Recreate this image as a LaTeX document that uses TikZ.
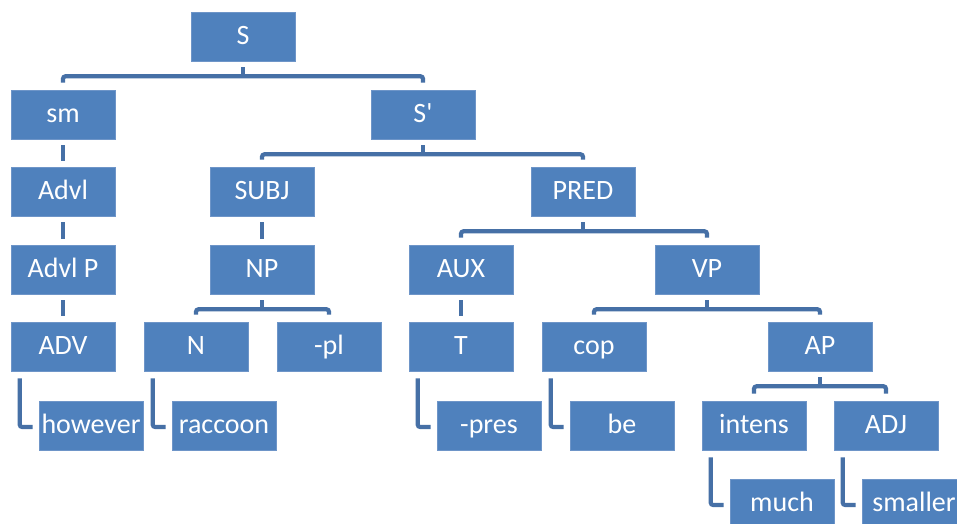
\documentclass[tikz,border=0pt]{standalone}
\usepackage{fontspec}
\setmainfont{Carlito}[Ligatures=TeXOff]
\usetikzlibrary{calc}
\definecolor{boxfill}{HTML}{4F81BD}
\definecolor{boxedge}{HTML}{6E95C8}
\definecolor{connc}{HTML}{4670A6}
\tikzset{
  tbox/.style={rectangle, fill=boxfill, draw=boxedge, line width=0.6pt,
    minimum width=104pt, minimum height=49pt, inner sep=0pt,
    text=white, font=\fontsize{28}{32}\selectfont, text height=16pt, text depth=0pt},
  conn/.style={draw=connc, line width=4.2pt, rounded corners=2.5pt},
}
\newcommand{\bracketc}[3]{%
  \draw[conn] ($(#1.south)+(0,6)$) -- ($(#1.south)+(0,15)$);
  \draw[conn] ($(#2.north)+(0,-7)$) |- ($(#1.south)+(0,15)$) -| ($(#3.north)+(0,-7)$);
}
\newcommand{\vertc}[2]{%
  \draw[conn] ($(#1.south)+(0,6)$) -- ($(#2.north)+(0,-6)$);
}
\newcommand{\lconn}[2]{%
  \draw[conn] ($(#1.south west)+(9,7)$) |- ($(#2.west)+(-6,1.5)$);
}
\begin{document}
\begin{tikzpicture}[x=1pt,y=-1pt]
\clip (0,0) rectangle (957,523);
\fill[white] (0,0) rectangle (957,523);
% row 0
\node[tbox] (S) at (243,36.5) {S};
% row 1
\node[tbox] (sm) at (63,114.5) {sm};
\node[tbox] (Sp) at (423,114.5) {S'};
% row 2
\node[tbox] (Advl) at (63,191.5) {Advl};
\node[tbox] (SUBJ) at (262,191.5) {SUBJ};
\node[tbox] (PRED) at (583,191.5) {PRED};
% row 3
\node[tbox] (AdvlP) at (63,269.5) {Advl P};
\node[tbox] (NP) at (262,269.5) {NP};
\node[tbox] (AUX) at (461,269.5) {AUX};
\node[tbox] (VP) at (707,269.5) {VP};
% row 4
\node[tbox] (ADV) at (63,346.5) {ADV};
\node[tbox] (N) at (196,346.5) {N};
\node[tbox] (pl) at (329,346.5) {-pl};
\node[tbox] (T) at (461,346.5) {T};
\node[tbox] (cop) at (594,346.5) {cop};
\node[tbox] (AP) at (820,346.5) {AP};
% row 5
\node[tbox] (however) at (91,425.5) {however};
\node[tbox] (raccoon) at (224,425.5) {raccoon};
\node[tbox] (pres) at (489,425.5) {-pres};
\node[tbox] (be) at (622,425.5) {be};
\node[tbox] (intens) at (754,425.5) {intens};
\node[tbox] (ADJ) at (886,425.5) {ADJ};
% row 6
\node[tbox] (much) at (782,503.5) {much};
\node[tbox] (smaller) at (914,503.5) {smaller};
% connectors
\bracketc{S}{sm}{Sp}
\bracketc{Sp}{SUBJ}{PRED}
\bracketc{PRED}{AUX}{VP}
\bracketc{NP}{N}{pl}
\bracketc{VP}{cop}{AP}
\bracketc{AP}{intens}{ADJ}
\vertc{sm}{Advl}
\vertc{Advl}{AdvlP}
\vertc{AdvlP}{ADV}
\vertc{SUBJ}{NP}
\vertc{AUX}{T}
\lconn{ADV}{however}
\lconn{N}{raccoon}
\lconn{T}{pres}
\lconn{cop}{be}
\lconn{intens}{much}
\lconn{ADJ}{smaller}
\end{tikzpicture}
\end{document}
